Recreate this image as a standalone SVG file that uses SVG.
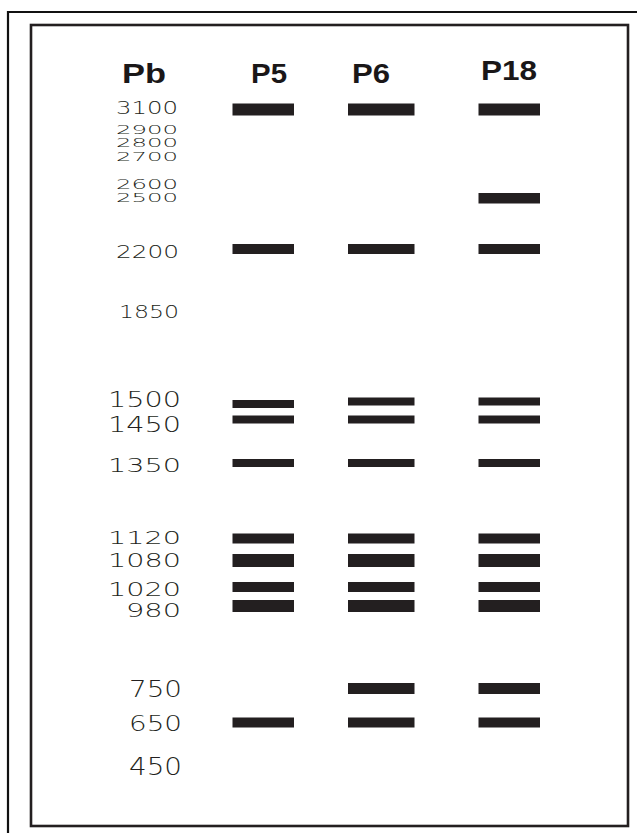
<svg xmlns="http://www.w3.org/2000/svg" width="637" height="833" viewBox="0 0 637 833">
<style>
.frame{fill:none;stroke:#111;stroke-width:2.2}
.inner{fill:none;stroke:#231f20;stroke-width:2.6}
.hd{font-family:"Liberation Sans",Arial,sans-serif;font-weight:bold;font-size:28px;fill:#1a1718}
.lb{font-family:"DejaVu Sans","Liberation Sans",sans-serif;font-weight:200;fill:#231f20}
.band{fill:#231f20}
</style>
<rect width="637" height="833" fill="#fff"/>
<g id="frame">
<path class="frame" d="M8,833 V12 H637"/>
<rect class="inner" x="31" y="25" width="597" height="801"/>
</g>
<g id="headers">
<text class="hd" x="122" y="83" textLength="44" lengthAdjust="spacingAndGlyphs">Pb</text>
<text class="hd" x="251" y="83" textLength="36" lengthAdjust="spacingAndGlyphs">P5</text>
<text class="hd" x="352" y="83" textLength="38" lengthAdjust="spacingAndGlyphs">P6</text>
<text class="hd" x="481" y="80" textLength="56" lengthAdjust="spacingAndGlyphs">P18</text>
</g>
<g id="ladder">
<text class="lb" x="116" y="114" font-size="17.5" textLength="62" lengthAdjust="spacingAndGlyphs">3100</text>
<text class="lb" x="116" y="134.3" font-size="12" textLength="62" lengthAdjust="spacingAndGlyphs">2900</text>
<text class="lb" x="116" y="147.3" font-size="12" textLength="62" lengthAdjust="spacingAndGlyphs">2800</text>
<text class="lb" x="116" y="160.7" font-size="12" textLength="62" lengthAdjust="spacingAndGlyphs">2700</text>
<text class="lb" x="116" y="188.5" font-size="14.5" textLength="62" lengthAdjust="spacingAndGlyphs">2600</text>
<text class="lb" x="116" y="202" font-size="12" textLength="62" lengthAdjust="spacingAndGlyphs">2500</text>
<text class="lb" x="116" y="258" font-size="17" textLength="63" lengthAdjust="spacingAndGlyphs">2200</text>
<text class="lb" x="119" y="318" font-size="18" textLength="60" lengthAdjust="spacingAndGlyphs">1850</text>
<text class="lb" x="108" y="406.7" font-size="20.5" textLength="73" lengthAdjust="spacingAndGlyphs">1500</text>
<text class="lb" x="108" y="431.7" font-size="20.5" textLength="73" lengthAdjust="spacingAndGlyphs">1450</text>
<text class="lb" x="108" y="471.7" font-size="20" textLength="73" lengthAdjust="spacingAndGlyphs">1350</text>
<text class="lb" x="108" y="544" font-size="18.3" textLength="73" lengthAdjust="spacingAndGlyphs">1120</text>
<text class="lb" x="108" y="567.3" font-size="19.2" textLength="73" lengthAdjust="spacingAndGlyphs">1080</text>
<text class="lb" x="108" y="596.3" font-size="18.8" textLength="73" lengthAdjust="spacingAndGlyphs">1020</text>
<text class="lb" x="126" y="616.7" font-size="19.8" textLength="55" lengthAdjust="spacingAndGlyphs">980</text>
<text class="lb" x="129" y="697.3" font-size="23" textLength="53" lengthAdjust="spacingAndGlyphs">750</text>
<text class="lb" x="129" y="730.7" font-size="20.5" textLength="53" lengthAdjust="spacingAndGlyphs">650</text>
<text class="lb" x="129" y="775" font-size="24" textLength="53" lengthAdjust="spacingAndGlyphs">450</text>
</g>
<g id="lane-P5">
<rect class="band" x="232.5" y="103.5" width="61.5" height="12"/>
<rect class="band" x="232.5" y="244" width="61.5" height="10"/>
<rect class="band" x="232.5" y="400" width="61.5" height="8"/>
<rect class="band" x="232.5" y="415.5" width="61.5" height="8"/>
<rect class="band" x="232.5" y="459" width="61.5" height="8"/>
<rect class="band" x="232.5" y="533.5" width="61.5" height="10"/>
<rect class="band" x="232.5" y="554" width="61.5" height="13"/>
<rect class="band" x="232.5" y="582" width="61.5" height="10"/>
<rect class="band" x="232.5" y="600" width="61.5" height="12"/>
<rect class="band" x="232.5" y="717.5" width="61.5" height="10"/>
</g>
<g id="lane-P6">
<rect class="band" x="348" y="103.5" width="66.5" height="12"/>
<rect class="band" x="348" y="244" width="66.5" height="10"/>
<rect class="band" x="348" y="397.5" width="66.5" height="8"/>
<rect class="band" x="348" y="415.5" width="66.5" height="8"/>
<rect class="band" x="348" y="459" width="66.5" height="8"/>
<rect class="band" x="348" y="533.5" width="66.5" height="10"/>
<rect class="band" x="348" y="554" width="66.5" height="13"/>
<rect class="band" x="348" y="582" width="66.5" height="10"/>
<rect class="band" x="348" y="600" width="66.5" height="12"/>
<rect class="band" x="348" y="683" width="66.5" height="11"/>
<rect class="band" x="348" y="717.5" width="66.5" height="10"/>
</g>
<g id="lane-P18">
<rect class="band" x="478.5" y="103.5" width="61.5" height="12"/>
<rect class="band" x="478.5" y="193" width="61.5" height="10.5"/>
<rect class="band" x="478.5" y="244" width="61.5" height="10"/>
<rect class="band" x="478.5" y="397.5" width="61.5" height="8"/>
<rect class="band" x="478.5" y="415.5" width="61.5" height="8"/>
<rect class="band" x="478.5" y="459" width="61.5" height="8"/>
<rect class="band" x="478.5" y="533.5" width="61.5" height="10"/>
<rect class="band" x="478.5" y="554" width="61.5" height="13"/>
<rect class="band" x="478.5" y="582" width="61.5" height="10"/>
<rect class="band" x="478.5" y="600" width="61.5" height="12"/>
<rect class="band" x="478.5" y="683" width="61.5" height="11"/>
<rect class="band" x="478.5" y="717.5" width="61.5" height="10"/>
</g>
</svg>
